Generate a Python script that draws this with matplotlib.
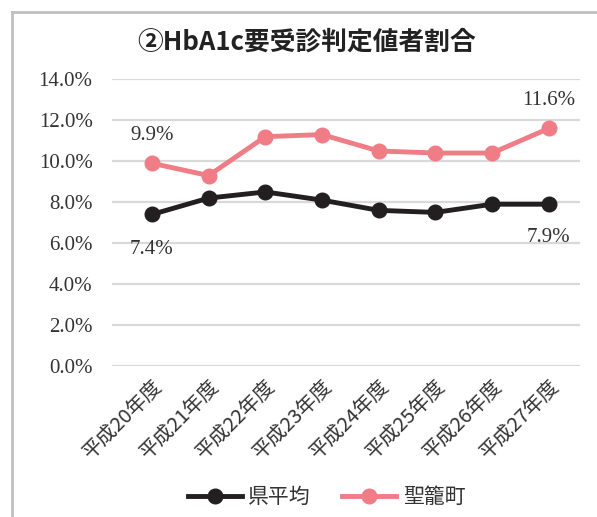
import matplotlib
matplotlib.use("Agg")
import matplotlib.pyplot as plt
from matplotlib.lines import Line2D

plt.rcParams['font.family'] = ['Noto Sans CJK JP', 'DejaVu Sans']

years = ["平成20年度", "平成21年度", "平成22年度", "平成23年度",
         "平成24年度", "平成25年度", "平成26年度", "平成27年度"]
pref_avg = [7.4, 8.2, 8.5, 8.1, 7.6, 7.5, 7.9, 7.9]
seiro = [9.9, 9.3, 11.2, 11.3, 10.5, 10.4, 10.4, 11.6]
yticks = [0, 2, 4, 6, 8, 10, 12, 14]

BLACK = "#231f20"
PINK = "#f07c85"
GRID = "#d9d9d9"
TXT = "#333333"

fig = plt.figure(figsize=(5.97, 5.17), dpi=100)
ax = fig.add_axes([0.1876, 0.2921, 0.7839, 0.5545])

x = list(range(len(years)))
ax.plot(x, pref_avg, color=BLACK, lw=3.5, marker="o", ms=10.5, label="県平均", zorder=3)
ax.plot(x, seiro, color=PINK, lw=3.5, marker="o", ms=10.5, label="聖籠町", zorder=3)

ax.set_ylim(0, 14)
ax.set_xlim(-0.705, 7.55)
ax.set_yticks(yticks)
ax.set_yticklabels([f"{v:.1f}%" for v in yticks], family="Liberation Serif",
                   fontsize=15, color=TXT)
ax.set_xticks(x)
ax.set_xticklabels(years, rotation=45, ha="right", va="top",
                   rotation_mode="anchor", fontsize=14.5, color=TXT)
ax.tick_params(axis="y", length=0, pad=14)
ax.tick_params(axis="x", length=0, pad=7)
ax.grid(axis="y", color=GRID, lw=1.6)
ax.set_axisbelow(True)
for s in ax.spines.values():
    s.set_visible(False)

# data labels at first and last points
lbl = dict(family="Liberation Serif", fontsize=15, color=TXT, ha="center", va="center")
ax.annotate(f"{seiro[0]:.1f}%", (0, seiro[0]), xytext=(0, 20), textcoords="offset points", **lbl)
ax.annotate(f"{seiro[-1]:.1f}%", (7, seiro[-1]), xytext=(0, 20), textcoords="offset points", **lbl)
ax.annotate(f"{pref_avg[0]:.1f}%", (0, pref_avg[0]), xytext=(0, -25), textcoords="offset points", **lbl)
ax.annotate(f"{pref_avg[-1]:.1f}%", (7, pref_avg[-1]), xytext=(0, -24), textcoords="offset points", **lbl)

fig.text(0.514, 0.919, "②HbA1c要受診判定値者割合", ha="center", va="center",
         fontsize=18.5, fontweight="bold", color="#222222")

fig.legend(loc="center", bbox_to_anchor=(0.547, 0.039), ncol=2, frameon=False,
           fontsize=15, handlelength=2.6, handletextpad=0.3, columnspacing=1.5,
           labelcolor=TXT)

# outer frame (left and top edges visible)
fig.add_artist(Line2D([0.0193, 0.0193], [0.0, 0.977], color="#c0c0c0", lw=2,
                      transform=fig.transFigure))
fig.add_artist(Line2D([0.0193, 1.0], [0.977, 0.977], color="#c0c0c0", lw=2,
                      transform=fig.transFigure))

fig.savefig("out.png", dpi=100)
